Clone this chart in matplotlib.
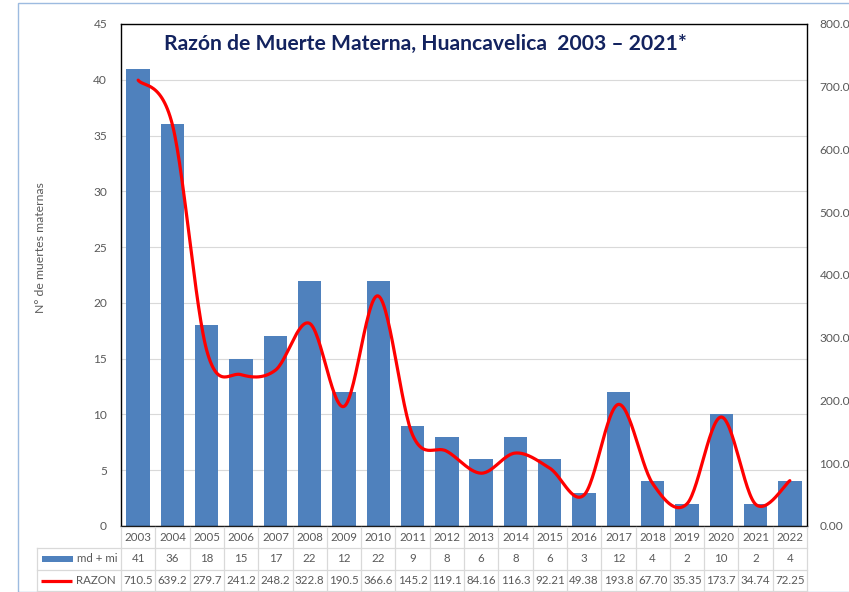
import numpy as np
import matplotlib
matplotlib.use("Agg")
import matplotlib.pyplot as plt
from matplotlib.patches import Rectangle
from matplotlib.lines import Line2D
from matplotlib.transforms import blended_transform_factory

plt.rcParams['font.family'] = ['Lato', 'DejaVu Sans']

years = ["2003", "2004", "2005", "2006", "2007", "2008", "2009", "2010", "2011", "2012",
         "2013", "2014", "2015", "2016", "2017", "2018", "2019", "2020", "2021", "2022"]
deaths = [41, 36, 18, 15, 17, 22, 12, 22, 9, 8, 6, 8, 6, 3, 12, 4, 2, 10, 2, 4]
ratio = [710.5, 639.2, 279.7, 241.2, 248.2, 322.8, 190.5, 366.6, 145.2, 119.1,
         84.16, 116.3, 92.21, 49.38, 193.8, 67.70, 35.35, 173.7, 34.74, 72.25]
ratio_labels = ["710.5", "639.2", "279.7", "241.2", "248.2", "322.8", "190.5", "366.6",
                "145.2", "119.1", "84.16", "116.3", "92.21", "49.38", "193.8", "67.70",
                "35.35", "173.7", "34.74", "72.25"]
series_names = ["md + mi", "RAZON"]
title = "Razón de Muerte Materna, Huancavelica  2003 – 2021*"
ylabel_left = "N° de muertes maternas"

BLUE = "#4f81bd"
GRID = "#d9d9d9"
TXT = "#595959"
FS = 8.3

W, H = 849, 592
fig = plt.figure(figsize=(W / 100, H / 100), dpi=100)

# outer chart border
fig.patches.append(Rectangle((18 / W, 0), 1.2, 1 - 3 / H, transform=fig.transFigure,
                             fill=False, edgecolor="#9dbbe0", linewidth=1.0))

ax_l, ax_r, ax_t, ax_b = 121, 807, 24, 526
ax = fig.add_axes([ax_l / W, 1 - ax_b / H, (ax_r - ax_l) / W, (ax_b - ax_t) / H])
x = np.arange(len(years))
ax.bar(x, deaths, width=0.68, color=BLUE, zorder=2)
ax.set_xlim(-0.5, len(years) - 0.5)
ax.set_ylim(0, 45)
ax.set_yticks(np.arange(0, 46, 5))
ax.set_xticks([])
ax.grid(axis="y", color=GRID, linewidth=0.8, zorder=0)
ax.set_axisbelow(True)
ax.tick_params(axis="y", length=0, pad=10, labelsize=FS + 0.3, labelcolor=TXT)
for s in ax.spines.values():
    s.set_color("black")
    s.set_linewidth(1.0)

ax2 = ax.twinx()
ax2.set_ylim(0, 800)
ax2.set_yticks(np.arange(0, 801, 100))
ax2.set_yticklabels([f"{v:.2f}" for v in np.arange(0, 801, 100)])
ax2.tick_params(axis="y", length=0, pad=9, labelsize=FS + 0.3, labelcolor=TXT)
for s in ax2.spines.values():
    s.set_visible(False)


# smoothed line (Bezier through the points, spreadsheet-style smoothing)
def smooth(xs, ys, n=30):
    xs = np.asarray(xs, float)
    ys = np.asarray(ys, float)
    px = np.concatenate([[xs[0]], xs, [xs[-1]]])
    py = np.concatenate([[ys[0]], ys, [ys[-1]]])
    outx, outy = [], []
    t = np.linspace(0, 1, n)
    for i in range(1, len(px) - 2):
        p0 = np.array([px[i - 1], py[i - 1]])
        p1 = np.array([px[i], py[i]])
        p2 = np.array([px[i + 1], py[i + 1]])
        p3 = np.array([px[i + 2], py[i + 2]])
        c1 = p1 + (p2 - p0) / 6
        c2 = p2 - (p3 - p1) / 6
        b = ((1 - t) ** 3)[:, None] * p1 + (3 * (1 - t) ** 2 * t)[:, None] * c1 \
            + (3 * (1 - t) * t ** 2)[:, None] * c2 + (t ** 3)[:, None] * p2
        outx.extend(b[:, 0])
        outy.extend(b[:, 1])
    return np.array(outx), np.array(outy)


sx, sy = smooth(x, ratio)
ax2.plot(sx, sy, color="red", linewidth=2.3, zorder=3, solid_capstyle="round")

fig.text(425 / W, 1 - 44 / H, title, ha="center", va="center", fontsize=15.2,
         fontweight="bold", color="#13235f")
fig.text(41 / W, 1 - 248 / H, ylabel_left, rotation=90, ha="center", va="center",
         fontsize=8.8, color=TXT)

# data table under the plot
tr = blended_transform_factory(ax.transData, fig.transFigure)
rows_y = [527, 548, 570, 591]
fy = [1 - r / H for r in rows_y]
lines = []
for r, yy in enumerate(fy):
    x0 = ax_l / W if r == 0 else 37 / W
    lines.append(Line2D([x0, ax_r / W], [yy, yy], transform=fig.transFigure,
                        color=GRID, linewidth=0.9))
for i in range(len(years) + 1):
    lines.append(Line2D([i - 0.5, i - 0.5], [fy[0], fy[-1]], transform=tr,
                        color=GRID, linewidth=0.9))
lines.append(Line2D([37 / W, 37 / W], [fy[1], fy[-1]], transform=fig.transFigure,
                    color=GRID, linewidth=0.9))
for ln in lines:
    fig.add_artist(ln)

row_rows = [years, [str(d) for d in deaths], ratio_labels]
for r, vals in enumerate(row_rows):
    yc = (fy[r] + fy[r + 1]) / 2
    for i, v in enumerate(vals):
        fig.text(i, yc, v, transform=tr, ha="center", va="center", fontsize=FS,
                 color=TXT)

# legend keys inside the table
y1 = (fy[1] + fy[2]) / 2
y2 = (fy[2] + fy[3]) / 2
fig.patches.append(Rectangle((42 / W, y1 - 3 / H), 31 / W, 6 / H, transform=fig.transFigure,
                             facecolor=BLUE, edgecolor="none"))
fig.text(77 / W, y1, series_names[0], ha="left", va="center", fontsize=FS, color=TXT)
fig.add_artist(Line2D([41 / W, 72 / W], [y2, y2], transform=fig.transFigure,
                      color="red", linewidth=2.3, solid_capstyle="butt"))
fig.text(76 / W, y2, series_names[1], ha="left", va="center", fontsize=FS, color=TXT)

fig.savefig("out.png", dpi=100)
